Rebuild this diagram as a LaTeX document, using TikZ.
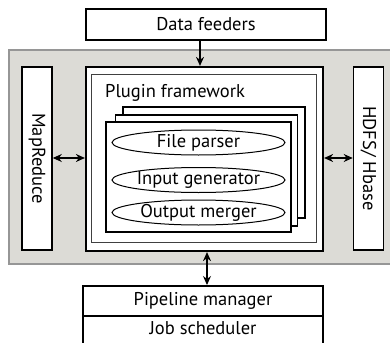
\documentclass[tikz,border=0pt]{standalone}
\usepackage{fontspec}
\setmainfont{PT Sans}
\usetikzlibrary{arrows.meta,shapes.geometric}
\definecolor{panelgray}{RGB}{220,219,214}
\definecolor{panelline}{RGB}{150,150,150}
\begin{document}
\begin{tikzpicture}[x=1pt,y=-1pt,
  box/.style={draw=black,line width=1.6pt,fill=white},
  card/.style={draw=black,line width=1.6pt,fill=white},
  oval/.style={ellipse,draw=black,line width=1pt,fill=white,minimum width=173pt,minimum height=25pt,inner sep=0pt},
  lbl/.style={font=\fontsize{18.5}{20}\selectfont,inner sep=0pt},
  arr/.style={line width=1.1pt,-{Stealth[length=9pt,width=8pt]}},
  darr/.style={line width=1.1pt,{Stealth[length=9pt,width=8pt]}-{Stealth[length=9pt,width=8pt]}}]
\useasboundingbox (0,0) rectangle (390,342);
\clip (0,0) rectangle (390,342);
% gray panel
\fill[panelgray] (9,50) rectangle (392,264);
\draw[panelline,line width=1.4pt] (392,50) -- (9,50) -- (9,264) -- (392,264);
% data feeders
\node[box,minimum width=240pt,minimum height=31pt,inner sep=0pt] (df) at (206,24.5) {};
\node[lbl] (dft) at (206,24.5) {Data feeders};
% outer frame
\node[draw=black,line width=2.2pt,fill=white,minimum width=237pt,minimum height=184pt,inner sep=0pt] (outer) at (204.5,159) {};
\node[draw=black!75,line width=1pt,minimum width=225pt,minimum height=167pt,inner sep=0pt] (inner) at (203.5,158.5) {};
\node[lbl,anchor=west] (pf) at (105,93) {Plugin framework};
% cards
\node[card,minimum width=182pt,minimum height=111pt,inner sep=0pt] (c3) at (214,162.5) {};
\node[card,minimum width=182pt,minimum height=111pt,inner sep=0pt] (c2) at (206.5,170.5) {};
\node[card,minimum width=185pt,minimum height=110pt,inner sep=0pt] (c1) at (198.5,177) {};
\node[oval] (fp) at (198.5,142.5) {};
\node[lbl] at (fp) {File parser};
\node[oval] (ig) at (198.5,180) {};
\node[lbl] at (ig) {Input generator};
\node[oval] (om) at (198.5,212.5) {};
\node[lbl] at (om) {Output merger};
% side boxes
\node[box,minimum width=30pt,minimum height=183pt,inner sep=0pt] (mr) at (37,158.5) {};
\node[lbl,rotate=-90] at (mr) {MapReduce};
\node[box,minimum width=30pt,minimum height=183pt,inner sep=0pt] (hb) at (368.5,158.5) {};
\node[lbl,rotate=-90] at (hb) {HDFS/ Hbase};
% bottom box
\node[box,minimum width=240pt,minimum height=30pt,inner sep=0pt,anchor=north] (pm) at (203,285) {};
\node[lbl] at (pm) {Pipeline manager};
\node[box,minimum width=240pt,minimum height=40pt,inner sep=0pt,anchor=north] (js) at (203,315) {};
\node[lbl] (jst) at (203,328) {Job scheduler};
% arrows
\draw[arr] (df.south -| 200,0) -- (outer.north -| 200,0);
\draw[darr] (mr.east |- 0,158) -- (outer.west |- 0,158);
\draw[darr] (outer.east |- 0,158) -- (hb.west |- 0,158);
\draw[darr] (outer.south -| 207,0) -- (pm.north -| 207,0);
\end{tikzpicture}
\end{document}
